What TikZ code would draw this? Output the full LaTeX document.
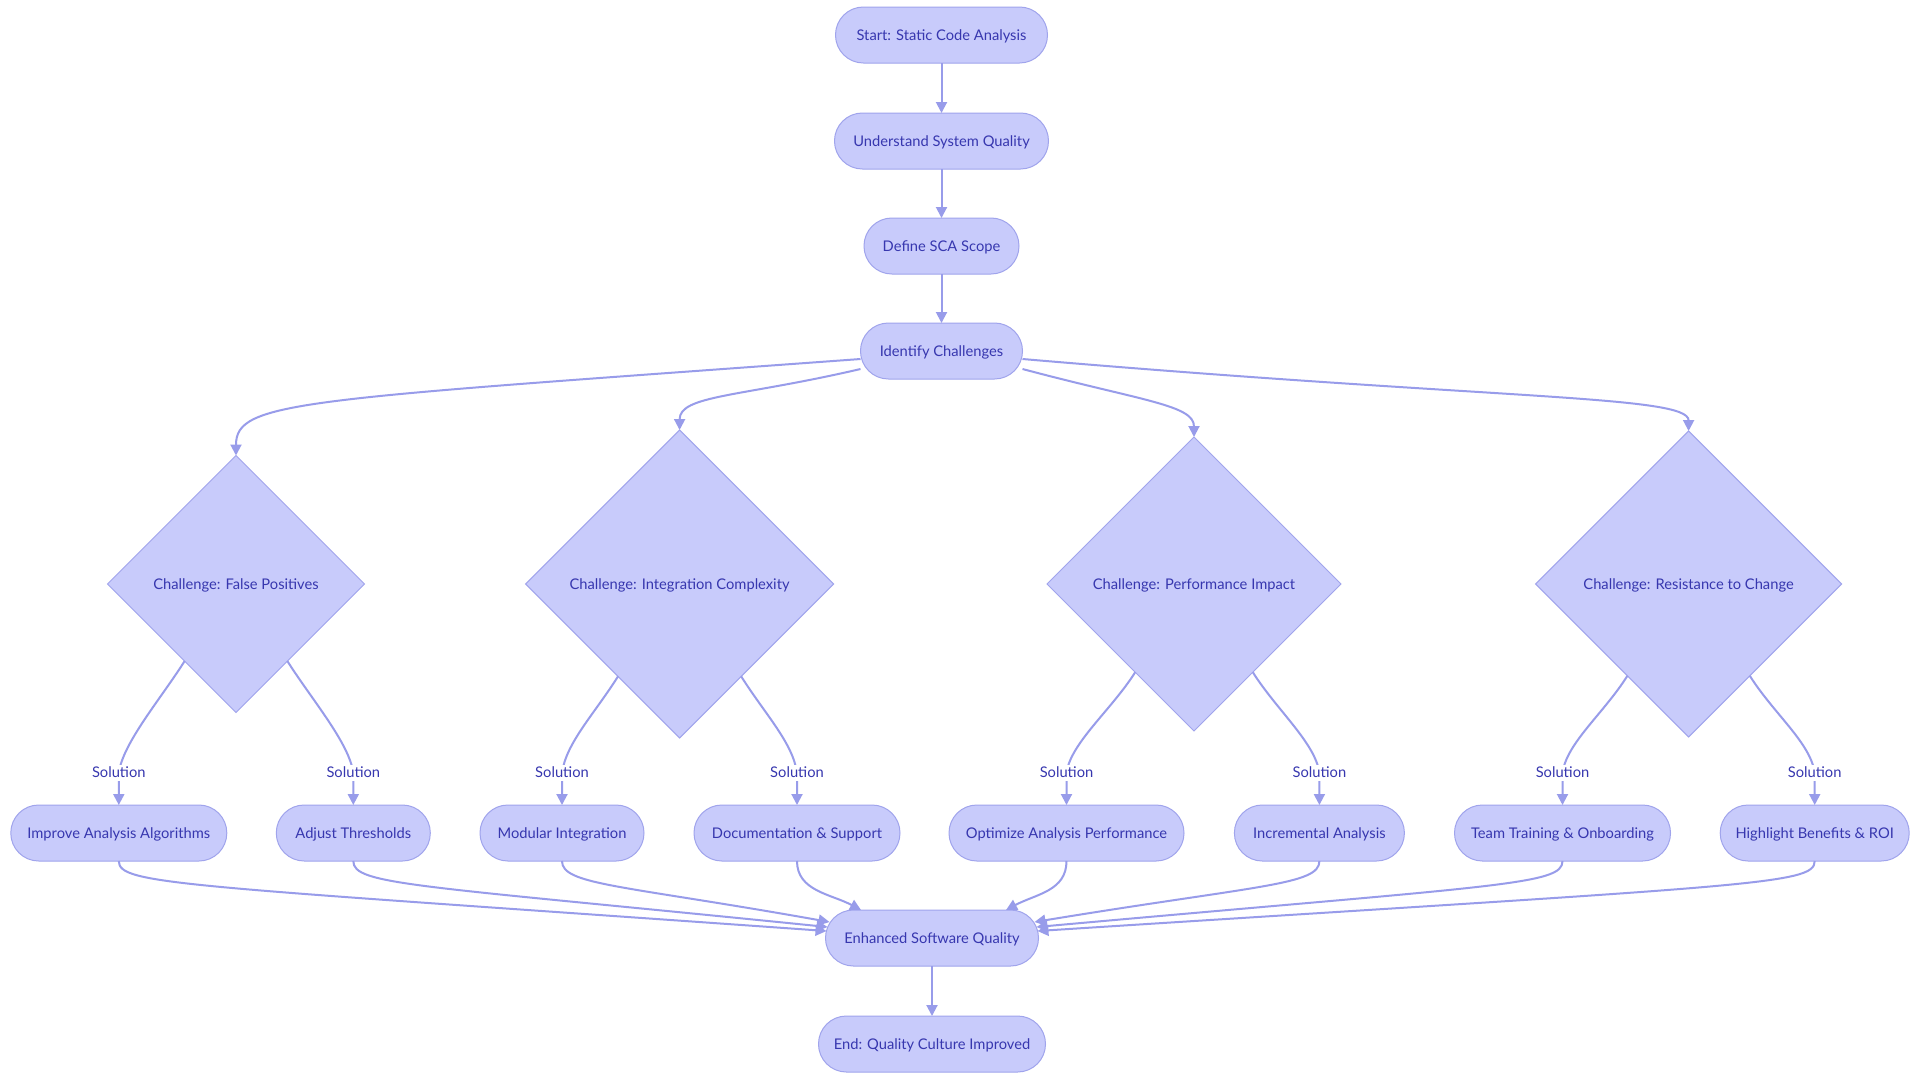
\documentclass[tikz,border=0pt]{standalone}
\usepackage{fontspec}
\setmainfont{Lato}
\usetikzlibrary{arrows.meta,shapes.geometric,calc}
\definecolor{nfill}{RGB}{200,203,251}
\definecolor{nline}{RGB}{160,164,236}
\definecolor{ntext}{RGB}{55,55,175}
\definecolor{eline}{RGB}{152,156,234}
\begin{document}
\begin{tikzpicture}[x=1pt,y=-1pt,
  txt/.style={text=ntext, font=\fontsize{14.7}{17}\selectfont, text height=13.2pt, text depth=1.6pt},
  box/.style={txt, draw=nline, fill=nfill, line width=1pt, rounded corners=27.9pt, minimum height=56pt, inner sep=0pt, outer sep=0pt},
  dia/.style={txt, draw=nline, fill=nfill, line width=1pt, diamond, aspect=1, inner sep=0pt, outer sep=0pt},
  edge/.style={draw=eline, line width=2pt, -{Triangle[length=11pt,width=11pt]}},
  lbl/.style={txt, fill=white, inner sep=1.5pt, text height=11pt}
]
\fill[white] (0,0) rectangle (1920,1080);
\useasboundingbox (0,0) rectangle (1920,1080);

% top chain
\node[box, minimum width=212pt] (start) at (941.5,35) {Start: Static Code Analysis};
\node[box, minimum width=214pt] (und) at (941.5,141) {Understand System Quality};
\node[box, minimum width=155pt] (def) at (941.5,246) {Define SCA Scope};
\node[box, minimum width=162pt] (ide) at (941.5,351) {Identify Challenges};

% diamonds
\node[dia, minimum width=257pt, minimum height=257pt] (d1) at (236,584) {Challenge: False Positives};
\node[dia, minimum width=308pt, minimum height=308pt] (d2) at (679.6,584) {Challenge: Integration Complexity};
\node[dia, minimum width=294pt, minimum height=294pt] (d3) at (1194,584) {Challenge: Performance Impact};
\node[dia, minimum width=306pt, minimum height=306pt] (d4) at (1688.6,584) {Challenge: Resistance to Change};

% solutions
\node[box, minimum width=216pt] (imp) at (118.8,833) {Improve Analysis Algorithms};
\node[box, minimum width=154pt] (adj) at (353.3,833) {Adjust Thresholds};
\node[box, minimum width=164pt] (mod) at (562,833) {Modular Integration};
\node[box, minimum width=206pt] (doc) at (797,833) {Documentation \& Support};
\node[box, minimum width=235pt] (opt) at (1066.5,833) {Optimize Analysis Performance};
\node[box, minimum width=170pt] (inc) at (1319.4,833) {Incremental Analysis};
\node[box, minimum width=216pt] (team) at (1562.5,833) {Team Training \& Onboarding};
\node[box, minimum width=189pt] (high) at (1814.7,833) {Highlight Benefits \& ROI};

% bottom
\node[box, minimum width=213pt] (enh) at (932,938) {Enhanced Software Quality};
\node[box, minimum width=227pt] (fin) at (932,1044) {End: Quality Culture Improved};

% straight edges
\draw[edge] (start.south) -- (und.north);
\draw[edge] (und.south) -- (def.north);
\draw[edge] (def.south) -- (ide.north);
\draw[edge] (enh.south) -- (fin.north);

% challenges
\draw[edge] ($(ide.west)+(0,8)$) .. controls +(-560,41) and +(0,-55) .. (d1.north);
\draw[edge] ($(ide.west)+(0,18)$) .. controls +(-120,28) and +(0,-35) .. (d2.north);
\draw[edge] ($(ide.east)+(0,18)$) .. controls +(120,32) and +(0,-32) .. (d3.north);
\draw[edge] ($(ide.east)+(0,8)$) .. controls +(477,41) and +(0,-36) .. (d4.north);

% diamond exits and label points
\foreach \d/\l/\r in {d1/imp/adj, d2/mod/doc, d3/opt/inc, d4/team/high}{
  \coordinate (\d l) at ($(\d.west)!0.6!(\d.south)$);
  \coordinate (\d r) at ($(\d.south)!0.4!(\d.east)$);
  \coordinate (\l s) at ($(\l.north)+(0,-32)$);
  \coordinate (\r s) at ($(\r.north)+(0,-32)$);
  \draw[edge] (\d l) .. controls +(-24,38) and +(4,-30) .. (\l s) -- (\l.north);
  \draw[edge] (\d r) .. controls +(24,38) and +(-4,-30) .. (\r s) -- (\r.north);
  \node[lbl] (\l lab) at (\l s) {Solution};
  \node[lbl] (\r lab) at (\r s) {Solution};
}

% into enhanced
\draw[edge] (imp.south) .. controls ($(imp.south)+(0,24)$) and ($(imp.south)+(60,24)$) .. ($(enh.west)+(1,-7)$);
\draw[edge] (adj.south) .. controls ($(adj.south)+(0,24)$) and ($(adj.south)+(60,24)$) .. ($(enh.west)+(2,-11)$);
\draw[edge] (mod.south) .. controls ($(mod.south)+(0,24)$) and ($(mod.south)+(60,24)$) .. ($(enh.west)+(4,-16)$);
\draw[edge] (doc.south) .. controls +(0,30) and +(-30,-16) .. ($(enh.north)+(-71,0)$);
\draw[edge] (opt.south) .. controls +(0,30) and +(30,-16) .. ($(enh.north)+(74,0)$);
\draw[edge] (inc.south) .. controls ($(inc.south)+(0,24)$) and ($(inc.south)+(-60,24)$) .. ($(enh.east)+(-4,-16)$);
\draw[edge] (team.south) .. controls ($(team.south)+(0,24)$) and ($(team.south)+(-60,24)$) .. ($(enh.east)+(-2,-11)$);
\draw[edge] (high.south) .. controls ($(high.south)+(0,24)$) and ($(high.south)+(-60,24)$) .. ($(enh.east)+(-1,-7)$);
\end{tikzpicture}
\end{document}
